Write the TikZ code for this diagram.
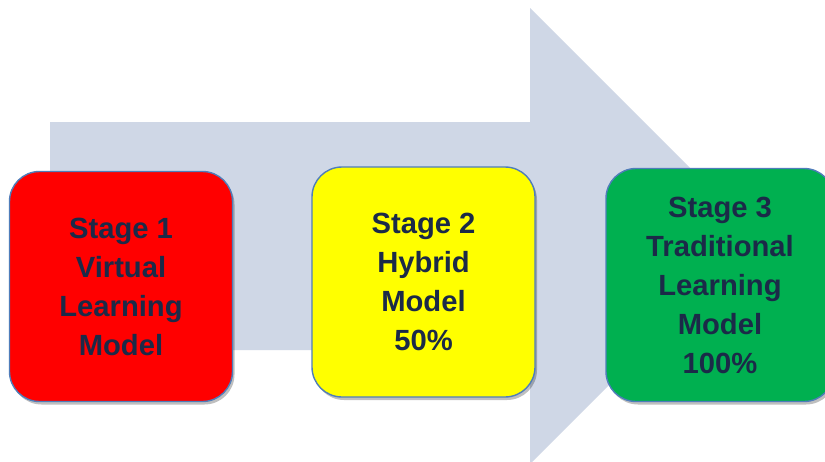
\documentclass[tikz,border=0pt]{standalone}
\usepackage{fontspec}
\setmainfont{Liberation Sans}
\usetikzlibrary{shadows}
\definecolor{arrowgray}{HTML}{CFD7E6}
\definecolor{boxborder}{HTML}{4F7DBA}
\definecolor{txtnavy}{HTML}{1B2A48}
\definecolor{stagered}{HTML}{FF0000}
\definecolor{stageyellow}{HTML}{FFFF00}
\definecolor{stagegreen}{HTML}{00B050}
\tikzset{
  stagebox/.style={draw=boxborder, line width=1.4pt, rounded corners=30pt,
    minimum width=223pt, minimum height=230pt, align=center, inner sep=0pt,
    text=txtnavy, font=\fontsize{29.2}{39}\selectfont\bfseries,
    drop shadow={shadow xshift=2pt, shadow yshift=-3pt, opacity=0.25, fill=black}},
}
\begin{document}
\begin{tikzpicture}[x=1pt,y=-1pt]
\useasboundingbox (0,0) rectangle (825,461);
\clip (0,0) rectangle (825,461);
\fill[white] (0,0) rectangle (825,461);
% big arrow
\fill[arrowgray] (50,122) -- (530,122) -- (530,8) -- (758,236) -- (530,464)
  -- (530,350) -- (50,350) -- cycle;
% stages
\node[stagebox, fill=stagered] (s1) at (121,286.5)
  {Stage 1\\Virtual\\Learning\\Model};
\node[stagebox, fill=stageyellow] (s2) at (423.5,282)
  {Stage 2\\Hybrid\\Model\\50\%};
\node[stagebox, fill=stagegreen, minimum width=228pt, minimum height=233pt] (s3) at (720,285)
  {Stage 3\\Traditional\\Learning\\Model\\100\%};
\end{tikzpicture}
\end{document}
